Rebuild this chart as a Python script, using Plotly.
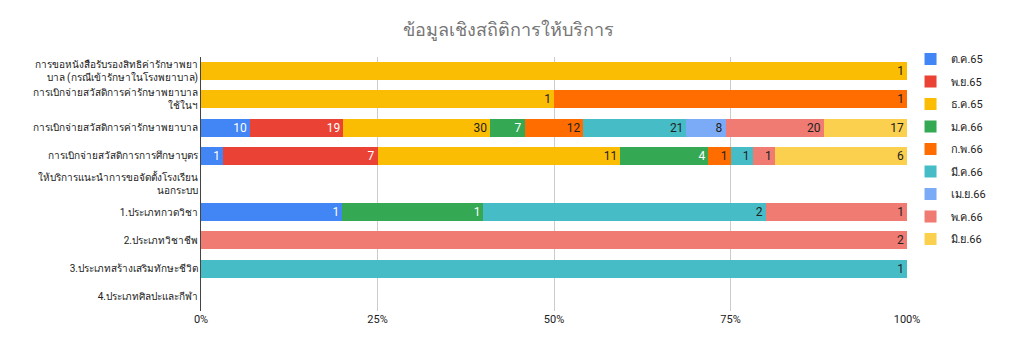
import plotly.graph_objects as go

categories = [
    "การขอหนังสือรับรองสิทธิค่ารักษาพยา<br>บาล (กรณีเข้ารักษาในโรงพยาบาล)",
    "การเบิกจ่ายสวัสดิการค่ารักษาพยาบาล<br>ใช้ในฯ",
    "การเบิกจ่ายสวัสดิการค่ารักษาพยาบาล",
    "การเบิกจ่ายสวัสดิการการศึกษาบุตร",
    "ให้บริการแนะนำการขอจัดตั้งโรงเรียน<br>นอกระบบ",
    "1.ประเภทกวดวิชา",
    "2.ประเภทวิชาชีพ",
    "3.ประเภทสร้างเสริมทักษะชีวิต",
    "4.ประเภทศิลปะและกีฬา",
]

months = ["ต.ค.65", "พ.ย.65", "ธ.ค.65", "ม.ค.66", "ก.พ.66", "มี.ค.66", "เม.ย.66", "พ.ค.66", "มิ.ย.66"]

oct65 = [None, None, 10, 1, None, 1, None, None, None]
nov65 = [None, None, 19, 7, None, None, None, None, None]
dec65 = [1, 1, 30, 11, None, None, None, None, None]
jan66 = [None, None, 7, 4, None, 1, None, None, None]
feb66 = [None, 1, 12, 1, None, None, None, None, None]
mar66 = [None, None, 21, 1, None, 2, None, 1, None]
apr66 = [None, None, 8, None, None, None, None, None, None]
may66 = [None, None, 20, 1, None, 1, 2, None, None]
jun66 = [None, None, 17, 6, None, None, None, None, None]

series = [oct65, nov65, dec65, jan66, feb66, mar66, apr66, may66, jun66]
colors = ["#4285F4", "#EA4335", "#FBBC04", "#34A853", "#FF6D01", "#46BDC6", "#7BAAF7", "#F07B72", "#FCD04F"]
text_colors = ["#ffffff", "#ffffff", "#222222", "#ffffff", "#222222", "#222222", "#222222", "#222222", "#222222"]

FONT = "Roboto, Liberation Sans, Arial, sans-serif"

fig = go.Figure()
for name, vals, col, tc in zip(months, series, colors, text_colors):
    fig.add_trace(go.Bar(
        y=categories,
        x=vals,
        name=name,
        orientation="h",
        marker=dict(color=col, line=dict(width=0)),
        text=[("" if v is None else str(v)) for v in vals],
        textposition="inside",
        insidetextanchor="end",
        textangle=0,
        constraintext="none",
        cliponaxis=False,
        textfont=dict(color=tc, size=12, family=FONT),
        legendgroup=name,
        hoverinfo="x+y+name",
    ))

fig.update_layout(
    barmode="stack",
    barnorm="percent",
    bargap=0.36,
    width=1024,
    height=351,
    margin=dict(l=201, r=117, t=57, b=40),
    paper_bgcolor="white",
    plot_bgcolor="white",
    font=dict(family=FONT, size=11, color="#222222"),
    title=dict(
        text="ข้อมูลเชิงสถิติการให้บริการ",
        x=0.497, xanchor="center",
        y=0.915, yanchor="middle",
        font=dict(size=18, color="#757575", family=FONT),
    ),
    legend=dict(
        x=1.005, xanchor="left",
        y=0.638, yanchor="middle",
        font=dict(size=11, color="#222222", family=FONT),
        traceorder="grouped",
        tracegroupgap=3.5,
        itemwidth=30,
    ),
)

fig.update_xaxes(
    range=[0, 100],
    tickvals=[0, 25, 50, 75, 100],
    ticktext=["0%", "25%", "50%", "75%", "100%"],
    showgrid=True,
    gridcolor="#cccccc",
    gridwidth=1,
    zeroline=False,
    showline=False,
    tickfont=dict(size=11, color="#222222"),
    ticks="",
    fixedrange=True,
)
fig.update_yaxes(
    autorange="reversed",
    showline=True,
    linecolor="#444444",
    linewidth=1,
    ticks="",
    ticklabelstandoff=0,
    tickfont=dict(size=10, color="#222222"),
    fixedrange=True,
)

fig.write_html("out.html")
